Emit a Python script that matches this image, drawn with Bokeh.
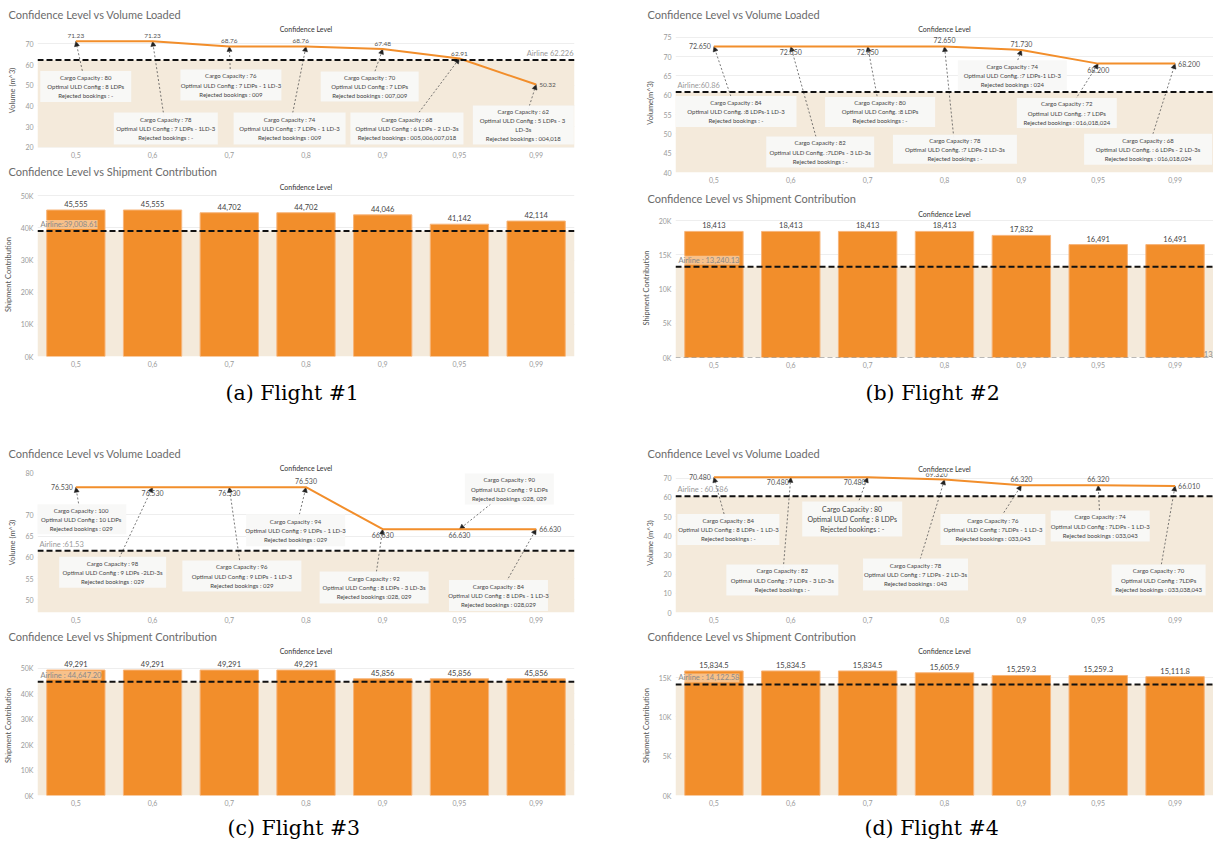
from bokeh.plotting import figure
from bokeh.layouts import column, row
from bokeh.models import (Range1d, FixedTicker, Span, BoxAnnotation, Label, Title,
                          Arrow, NormalHead, ColumnDataSource)
from bokeh.embed import file_html
from bokeh.resources import INLINE
from bokeh.core.properties import value

# ---------------- data ----------------
CONF = ["0,5", "0,6", "0,7", "0,8", "0,9", "0,95", "0,99"]

F1_VOLUME = [71.23, 71.23, 68.76, 68.76, 67.48, 62.91, 50.32]
F1_VOL_AIRLINE = 62.226
F1_SHIP = [45555, 45555, 44702, 44702, 44046, 41142, 42114]
F1_SHIP_AIRLINE = 39008.61
F1_CAPACITY = [80, 78, 76, 74, 70, 68, 62]
F1_ULD = ["8 LDPs", "7 LDPs - 1LD-3", "7 LDPs - 1 LD-3", "7 LDPs - 1 LD-3", "7 LDPs",
          "6 LDPs - 2 LD-3s", "5  LDPs - 3\nLD-3s"]
F1_REJECTED = [" -", " -", " 009", " 009", " 007,009", " 005,006,007,018", " 004,018"]

F2_VOLUME = [72.650, 72.650, 72.650, 72.650, 71.730, 68.200, 68.200]
F2_VOL_AIRLINE = 60.86
F2_SHIP = [18413, 18413, 18413, 18413, 17832, 16491, 16491]
F2_SHIP_AIRLINE = 13240.13
F2_CAPACITY = [84, 82, 80, 78, 74, 72, 68]
F2_ULD = [":8 LDPs-1 LD-3", ":7LDPs - 3 LD-3s", ":8 LDPs", ":7 LDPs-2 LD-3s", ":7 LDPs-1 LD-3",
          ": 7 LDPs", ": 6 LDPs - 2 LD-3s"]
F2_REJECTED = [" -", " -", " -", " -", " 024", " 016,018,024", " 016,018,024"]

F3_VOLUME = [76.530, 76.530, 76.530, 76.530, 66.630, 66.630, 66.630]
F3_VOL_AIRLINE = 61.53
F3_SHIP = [49291, 49291, 49291, 49291, 45856, 45856, 45856]
F3_SHIP_AIRLINE = 44647.20
F3_CAPACITY = [100, 98, 96, 94, 92, 90, 84]
F3_ULD = ["10 LDPs", "9 LDPs -2LD-3s", "9 LDPs - 1 LD-3", "9 LDPs - 1 LD-3", "8 LDPs - 3 LD-3s",
          "9 LDPs", "8 LDPs - 1 LD-3"]
F3_REJECTED = [" 029", " 029", " 029", " 029", "028, 029", "028, 029", " 028,029"]

F4_VOLUME = [70.480, 70.480, 70.480, 69.320, 66.320, 66.320, 66.010]
F4_VOL_AIRLINE = 60.586
F4_SHIP = [15834.5, 15834.5, 15834.5, 15605.9, 15259.3, 15259.3, 15111.8]
F4_SHIP_AIRLINE = 14122.58
F4_CAPACITY = [84, 82, 80, 78, 76, 74, 70]
F4_ULD = ["8 LDPs - 1 LD-3", "7 LDPs - 3 LD-3s", "8 LDPs", "7 LDPs - 2 LD-3s", "7LDPs - 1 LD-3",
          "7LDPs - 1 LD-3", "7LDPs"]
F4_REJECTED = [" -", " -", " -", " 043", " 033,043", " 033,043", " 033,038,043"]

# ---------------- layout / style ----------------
ORANGE = "#F28E2B"
BEIGE = "#F4EADB"
FONT = "Lato"
IDX = list(range(7))

PLACE = {
    "above": dict(text_align="center", text_baseline="bottom", x_offset=0, y_offset=-3),
    "below": dict(text_align="center", text_baseline="top", x_offset=0, y_offset=3),
    "left": dict(text_align="right", text_baseline="middle", x_offset=-3, y_offset=0),
    "right": dict(text_align="left", text_baseline="middle", x_offset=3, y_offset=0),
    "aboveleft": dict(text_align="right", text_baseline="bottom", x_offset=3, y_offset=-3),
    "belowleft": dict(text_align="right", text_baseline="top", x_offset=-2, y_offset=2),
}


def new_fig(w, h, bl, br, bt, bb, y0, y1):
    p = figure(width=w, height=h, x_range=Range1d(-0.5, 6.5), y_range=Range1d(y0, y1),
               output_backend="svg", toolbar_location=None, title=None,
               min_border_left=bl, min_border_right=br, min_border_top=bt, min_border_bottom=bb)
    p.outline_line_color = None
    p.background_fill_color = "white"
    p.border_fill_color = "white"
    return p


def add_titles(p, main, offset, s1, s2):
    p.add_layout(Title(text="Confidence Level", align="center", text_font=FONT,
                       text_font_size="7px", text_font_style="normal", text_color="#333",
                       standoff=s1), "above")
    p.add_layout(Title(text=main, align="left", offset=offset, text_font=FONT,
                       text_font_size="11px", text_font_style="normal", text_color="#6b6b6b",
                       standoff=s2), "above")


def style_axes(p, yticks, ylabel, overrides=None):
    p.xaxis.ticker = FixedTicker(ticks=IDX)
    p.xaxis.major_label_overrides = {i: c for i, c in enumerate(CONF)}
    p.yaxis.ticker = FixedTicker(ticks=yticks)
    if overrides:
        p.yaxis.major_label_overrides = overrides
    for ax in (p.xaxis[0], p.yaxis[0]):
        ax.axis_line_color = None
        ax.major_tick_line_color = None
        ax.minor_tick_line_color = None
        ax.major_tick_out = 0
        ax.major_label_text_color = "#9a9a9a"
        ax.major_label_text_font = FONT
        ax.major_label_text_font_size = "7px"
        ax.major_label_standoff = 4
    p.yaxis.axis_label = ylabel
    p.yaxis.axis_label_text_font = FONT
    p.yaxis.axis_label_text_font_size = "7.5px"
    p.yaxis.axis_label_text_font_style = "normal"
    p.yaxis.axis_label_text_color = "#555"
    p.yaxis.axis_label_standoff = 5
    p.xgrid.grid_line_color = None
    p.ygrid.ticker = FixedTicker(ticks=yticks)
    p.ygrid.grid_line_color = "#eeeeee"


def line_chart(c):
    p = new_fig(c["w"], c["h"], c["bl"], c["br"], c["bt"], c["bb"], *c["yr"])
    add_titles(p, "Confidence Level vs Volume Loaded", c["toff"], c["s1"], c["s2"])
    style_axes(p, c["yticks"], c["ylabel"])
    vol = c["vol"]
    p.add_layout(BoxAnnotation(top=c["airline"], fill_color=BEIGE, fill_alpha=1,
                               line_color=None, level="underlay"))
    src = ColumnDataSource(dict(xs=c["bx"], ys=c["by"], xe=IDX, ye=vol))
    p.add_layout(Arrow(end=NormalHead(size=5, fill_color="#222", line_color="#222", line_width=0.5),
                       x_start="xs", y_start="ys", x_end="xe", y_end="ye", source=src,
                       line_color="#555", line_width=0.8, line_dash="2 2", level="underlay"))
    p.add_layout(Span(location=c["airline"], dimension="width", line_color="#111",
                      line_dash="6 3", line_width=2))
    p.line(IDX, vol, line_color=ORANGE, line_width=2)
    texts = [f"Cargo Capacity : {cap}\nOptimal ULD Config{c['sep']}{u}\nRejected bookings :{r}"
             for cap, u, r in zip(c["cap"], c["uld"], c["rej"])]
    p.rect(c["bx"], c["by"], width=c["bw"], height=c["bh"], width_units="screen",
           height_units="screen", fill_color="#F8F8F7", fill_alpha=0.96, line_color=None)
    p.text(c["bx"], c["by"], text=texts, text_align="center", text_baseline="middle",
           text_font=value(FONT), text_font_size=c.get("bfs", "6px"), text_color="#444",
           text_line_height=1.3)
    for place in sorted(set(c["place"])):
        ii = [i for i in IDX if c["place"][i] == place]
        p.text([i for i in ii], [vol[i] for i in ii], text=[c["fmt"].format(vol[i]) for i in ii],
               text_font=value(FONT), text_font_size=c["vfs"], text_color="#555", **PLACE[place])
    alab = c["alabel"] + c["afmt"].format(c["airline"])
    if c["aside"] == "right":
        p.text([6.5], [c["airline"]], text=[alab], text_align="right", text_baseline="bottom",
               x_offset=-1, y_offset=-2, text_font=value(FONT), text_font_size="7.5px",
               text_color="#9a9a9a")
    else:
        p.text([-0.5], [c["airline"]], text=[alab], text_align="left", text_baseline="bottom",
               x_offset=2, y_offset=-2, text_font=value(FONT), text_font_size="7.5px",
               text_color="#9a9a9a")
    return p


def bar_chart(c):
    p = new_fig(c["w"], c["h"], c["bl"], c["br"], c["bt"], c["bb"], *c["yr"])
    add_titles(p, "Confidence Level vs Shipment Contribution", c["toff"], c["s1"], c["s2"])
    style_axes(p, c["yticks"], "Shipment Contribution",
               overrides={t: f"{t // 1000}K" for t in c["yticks"]})
    ship = c["ship"]
    p.add_layout(BoxAnnotation(top=c["airline"], fill_color=BEIGE, fill_alpha=1,
                               line_color=None, level="underlay"))
    p.vbar(x=IDX, top=ship, width=0.76, fill_color=ORANGE, line_color="#F7B57A", line_width=1)
    p.text(IDX, ship, text=[c["fmt"].format(v) for v in ship], text_align="center",
           text_baseline="bottom", y_offset=-3, text_font=value(FONT), text_font_size="7.5px",
           text_color="#444")
    p.add_layout(Span(location=c["airline"], dimension="width", line_color="#111",
                      line_dash="6 3", line_width=2))
    alab = c["alabel"] + f"{c['airline']:,.2f}"
    if c.get("zero_line"):
        p.add_layout(Span(location=0, dimension="width", line_color="#777",
                          line_dash="5 3", line_width=1.2))
        p.text([6.5], [0], text=[alab.split(": ")[-1][:2]], text_align="right",
               text_baseline="bottom", x_offset=-1, y_offset=-1, text_font=value(FONT),
               text_font_size="7.5px", text_color="#8a8a8a")
    p.add_layout(Label(x=-0.5, y=c["airline"], x_offset=3, y_offset=2,
                       text=alab, text_font=FONT,
                       text_font_size="7.5px", text_color="#8a8a8a", text_baseline="bottom",
                       background_fill_color="white", background_fill_alpha=0.45))
    p.add_layout(Title(text=c["caption"], align="left", offset=c["coff"],
                       text_font="DejaVu Serif", text_font_size="20.5px",
                       text_font_style="normal", text_color="#000", standoff=c["cs"]), "below")
    return p


# ---------------- panels ----------------
la = line_chart(dict(
    w=606, h=160, bl=34, br=32, bt=33, bb=13, yr=(19.9, 75), yticks=[20, 30, 40, 50, 60, 70],
    ylabel="Volume (m^3)", toff=-29, s1=1, s2=3, vol=F1_VOLUME, airline=F1_VOL_AIRLINE,
    cap=F1_CAPACITY, uld=F1_ULD, rej=F1_REJECTED, sep=" : ",
    bx=[0.129, 1.172, 2.021, 2.786, 3.830, 4.316, 5.833],
    by=[49.4, 29.1, 50.1, 29.1, 49.4, 29.1, 30.8],
    bw=[91, 104, 101, 112, 98, 113, 101], bh=[31, 32, 31, 32, 30, 32, 39],
    place=["above", "above", "above", "aboveleft", "above", "above", "right"],
    fmt="{:.2f}", vfs="6.5px", alabel="Airline ", afmt="{:.3f}", aside="right"))

ba = bar_chart(dict(
    w=606, h=260, bl=34, br=32, bt=32, bb=64, yr=(0, 51000),
    yticks=[0, 10000, 20000, 30000, 40000, 50000], toff=-29, s1=3, s2=3,
    ship=F1_SHIP, airline=F1_SHIP_AIRLINE, fmt="{:,.0f}", alabel="Airline:",
    caption="(a) Flight #1", coff=188, cs=18))

lc = line_chart(dict(
    w=606, h=205, bl=34, br=32, bt=52, bb=13, yr=(47, 80), yticks=[50, 55, 60, 65, 70, 80],
    ylabel="Volume (m^3)", toff=-29, s1=1, s2=4, vol=F3_VOLUME, airline=F3_VOL_AIRLINE,
    cap=F3_CAPACITY, uld=F3_ULD, rej=F3_REJECTED, sep=" : ",
    bx=[0.070, 0.479, 2.164, 2.864, 3.888, 5.651, 5.509],
    by=[69.0, 56.5, 55.6, 66.4, 52.9, 76.1, 51.0],
    bw=[90, 107, 119, 99, 109, 89, 99], bh=[30, 31, 31, 32, 32, 31, 31],
    place=["left", "below", "below", "above", "below", "below", "right"],
    fmt="{:.3f}", vfs="7px", alabel="Airline :", afmt="{:.2f}", aside="left"))

bc = bar_chart(dict(
    w=606, h=225, bl=34, br=32, bt=30, bb=55, yr=(0, 55000),
    yticks=[0, 10000, 20000, 30000, 40000, 50000], toff=-29, s1=1, s2=4,
    ship=F3_SHIP, airline=F3_SHIP_AIRLINE, fmt="{:,.0f}", alabel="Airline : ",
    caption="(c) Flight #3", coff=190, cs=11))

lb = line_chart(dict(
    w=607, h=185, bl=69, br=0, bt=33, bb=12, yr=(40, 76), yticks=[40, 45, 50, 55, 60, 65, 70, 75],
    ylabel="Volume(m^3)", toff=-28, s1=1, s2=3, vol=F2_VOLUME, airline=F2_VOL_AIRLINE,
    cap=F2_CAPACITY, uld=F2_ULD, rej=F2_REJECTED, sep=". ",
    bx=[0.287, 1.383, 2.162, 3.136, 3.883, 4.591, 5.649],
    by=[55.8, 45.3, 55.7, 46.0, 65.2, 55.4, 46.0],
    bw=[121, 108, 110, 124, 109, 100, 128], bh=[31, 31, 30, 29, 30, 30, 31],
    place=["left", "below", "below", "above", "above", "below", "right"],
    fmt="{:.3f}", vfs="7px", alabel="Airline:", afmt="{:.2f}", aside="left"))

bb_ = bar_chart(dict(
    w=607, h=235, bl=69, br=0, bt=33, bb=63, yr=(0, 20300),
    yticks=[0, 5000, 10000, 15000, 20000], toff=-28, s1=2, s2=4,
    ship=F2_SHIP, airline=F2_SHIP_AIRLINE, fmt="{:,.0f}", alabel="Airline : ",
    caption="(b) Flight #2", coff=190, cs=17, zero_line=True))

ld = line_chart(dict(
    w=607, h=205, bl=69, br=0, bt=53, bb=13, yr=(0, 72.5), yticks=[0, 10, 20, 30, 40, 50, 60, 70],
    ylabel="Volume (m^3)", toff=-28, s1=2, s2=4, vol=F4_VOLUME, airline=F4_VOL_AIRLINE,
    cap=F4_CAPACITY, uld=F4_ULD, rej=F4_REJECTED, sep=" : ",
    bx=[0.188, 0.890, 1.799, 2.623, 3.630, 5.026, 5.786],
    by=[43.3, 16.9, 48.8, 19.8, 43.3, 45.1, 16.9],
    bw=[102, 112, 100, 105, 105, 99, 94], bh=[31, 31, 35, 32, 31, 31, 31],
    bfs=["6px", "6px", "7px", "6px", "6px", "6px", "6px"],
    place=["left", "belowleft", "belowleft", "aboveleft", "above", "above", "right"],
    fmt="{:.3f}", vfs="7px", alabel="Airline : ", afmt="{:.3f}", aside="left"))

bd = bar_chart(dict(
    w=607, h=225, bl=69, br=0, bt=30, bb=55, yr=(0, 17800),
    yticks=[0, 5000, 10000, 15000], toff=-28, s1=1, s2=4,
    ship=F4_SHIP, airline=F4_SHIP_AIRLINE, fmt="{:,.1f}", alabel="Airline : ",
    caption="(d) Flight #4", coff=189, cs=11))

layout = row(column(la, ba, lc, bc), column(lb, bb_, ld, bd))

open("out.html", "w").write(file_html(layout, INLINE))
